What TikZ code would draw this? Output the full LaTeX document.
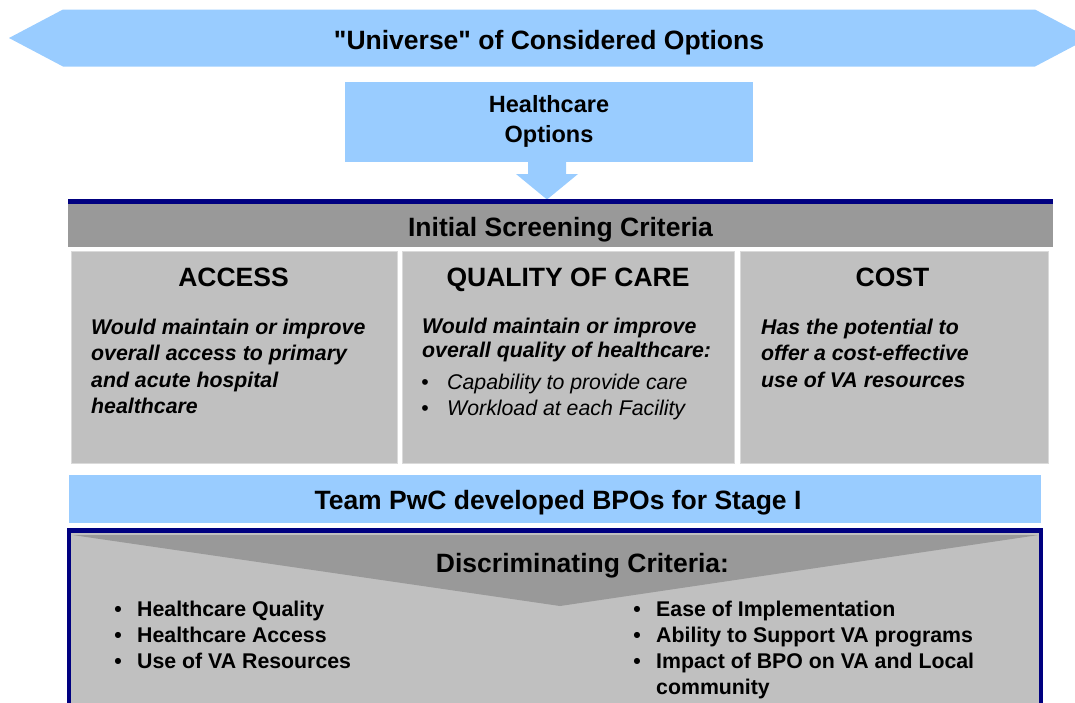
\documentclass[tikz,border=0pt]{standalone}
\usepackage{fontspec}
\setmainfont{Liberation Sans}
% same face without TeX ligatures, so that " stays a straight quote
\newfontfamily\straightq{Liberation Sans}
\definecolor{skyblue}{HTML}{99CCFF}
\definecolor{bargray}{HTML}{999999}
\definecolor{boxgray}{HTML}{C0C0C0}
\definecolor{boxedge}{HTML}{DADADA}
\definecolor{navyline}{HTML}{000080}
\begin{document}
\begin{tikzpicture}[x=1pt,y=-1pt,
  bigtext/.style={font=\fontsize{26.5}{32}\selectfont\bfseries,inner sep=0,anchor=base},
  midtext/.style={font=\fontsize{23.5}{28}\selectfont\bfseries,inner sep=0,anchor=base},
  bodybi/.style={font=\fontsize{21.3}{26}\selectfont\bfseries\itshape,inner sep=0,anchor=base west},
  bodyi/.style={font=\fontsize{21.3}{26}\selectfont\itshape,inner sep=0,anchor=base west},
  bodyb/.style={font=\fontsize{21.3}{26}\selectfont\bfseries,inner sep=0,anchor=base west},
  bulb/.style={font=\fontsize{21.3}{26}\selectfont\bfseries,inner sep=0,anchor=base},
  buli/.style={font=\fontsize{21.3}{26}\selectfont,inner sep=0,anchor=base},
  critbox/.style={fill=boxgray,draw=boxedge,line width=1pt}]
\useasboundingbox (0,0) rectangle (1075,702);
\clip (0,0) rectangle (1075,702);

% banner with two pointed ends
\fill[skyblue] (9,38) -- (63,9.5) -- (1035,9.5) -- (1089,38) -- (1035,66.5) -- (63,66.5) -- cycle;
\node[bigtext] (universe) at (549,49.5) {{\straightq\bfseries "}Universe{\straightq\bfseries "} of Considered Options};

% healthcare options box and the arrow below it
\fill[skyblue] (345,82) rectangle (753,162);
\node[midtext] (hc1) at (549,112.5) {Healthcare};
\node[midtext] (hc2) at (549,142.5) {Options};
\fill[skyblue] (528,161) -- (566,161) -- (566,174) -- (578,174) -- (547,199.5)
  -- (516,174) -- (528,174) -- cycle;

% initial screening bar
\fill[bargray] (68,203) rectangle (1053,247);
\fill[navyline] (68,199) rectangle (1053,203.5);
\node[bigtext] (initial) at (560.5,236.5) {Initial Screening Criteria};

% three criteria boxes
\path[critbox] (71,251) rectangle (397,463);
\path[critbox] (402,251) rectangle (734,463);
\path[critbox] (740,251) rectangle (1048,463);

\node[bigtext] (access) at (233.5,286.5) {ACCESS};
\node[bodybi] (a1) at (91,334) {Would maintain or improve};
\node[bodybi] (a2) at (91,360.5) {overall access to primary};
\node[bodybi] (a3) at (91,387) {and acute hospital};
\node[bodybi] (a4) at (91,413.5) {healthcare};

\node[bigtext] (quality) at (568,286.5) {QUALITY OF CARE};
\node[bodybi] (q1) at (422,333) {Would maintain or improve};
\node[bodybi] (q2) at (422,357.5) {overall quality of healthcare:};
\node[buli] (qb1) at (425,389.5) {\textbullet};
\node[bodyi] (q3) at (447,389.5) {Capability to provide care};
\node[buli] (qb2) at (425,415.5) {\textbullet};
\node[bodyi] (q4) at (447,415.5) {Workload at each Facility};

\node[bigtext] (cost) at (892.5,286.5) {COST};
\node[bodybi] (c1) at (761,334) {Has the potential to};
\node[bodybi] (c2) at (761,360.5) {offer a cost-effective};
\node[bodybi] (c3) at (761,387) {use of VA resources};

% team bar
\fill[skyblue] (69,475) rectangle (1041,523);
\node[bigtext] (team) at (558,509) {Team PwC developed BPOs for Stage I};

% discriminating criteria panel
\fill[boxgray] (67,528) rectangle (1043,710);
\fill[bargray] (72.5,535) -- (1038.5,535) -- (560,606) -- cycle;
\draw[navyline,line width=4.3pt] (68.85,530.5) rectangle (1041.2,720);
\node[bigtext] (disc) at (582.5,572) {Discriminating Criteria:};

\node[bulb] (lb1) at (118,616.5) {\textbullet};
\node[bodyb] (l1) at (137,616.5) {Healthcare Quality};
\node[bulb] (lb2) at (118,642.5) {\textbullet};
\node[bodyb] (l2) at (137,642.5) {Healthcare Access};
\node[bulb] (lb3) at (118,668.5) {\textbullet};
\node[bodyb] (l3) at (137,668.5) {Use of VA Resources};

\node[bulb] (rb1) at (637,616.5) {\textbullet};
\node[bodyb] (r1) at (656,616.5) {Ease of Implementation};
\node[bulb] (rb2) at (637,642.5) {\textbullet};
\node[bodyb] (r2) at (656,642.5) {Ability to Support VA programs};
\node[bulb] (rb3) at (637,668.5) {\textbullet};
\node[bodyb] (r3) at (656,668.5) {Impact of BPO on VA and Local};
\node[bodyb] (r4) at (656,694) {community};
\end{tikzpicture}
\end{document}
